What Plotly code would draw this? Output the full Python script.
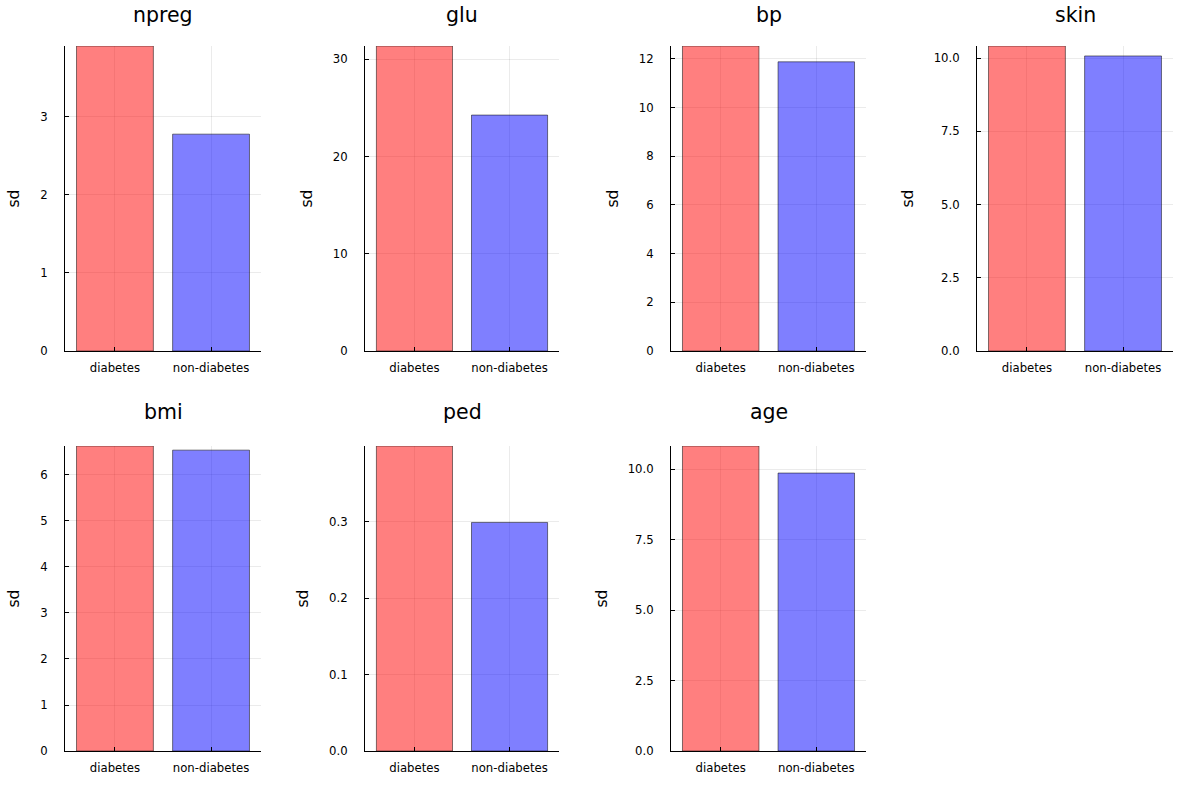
import plotly.graph_objects as go

groups = ["diabetes", "non-diabetes"]
variables = ["npreg", "glu", "bp", "skin", "bmi", "ped", "age"]
sd_diabetes = [3.91, 31.35, 12.53, 10.41, 6.63, 0.399, 10.82]
sd_nondiabetes = [2.78, 24.25, 11.88, 10.07, 6.54, 0.299, 9.86]
tick_steps = [1, 10, 2, 2.5, 1, 0.1, 2.5]
tick_formats = ["d", "d", "d", ".1f", "d", ".1f", ".1f"]

W, H = 1200, 800


def px_x(X):
    return X / W


def px_y(Y):
    return 1 - Y / H


col_px = [(65, 261), (365, 559), (671, 866), (977, 1173)]
row_px = [(46, 351), (446, 751)]
title_y = [15, 412]

fig = go.Figure()
colors = ["rgba(255,0,0,0.5)", "rgba(0,0,255,0.5)"]
font = "DejaVu Sans"

for i, var in enumerate(variables):
    r, c = divmod(i, 4)
    n = i + 1
    xa = "x" if n == 1 else f"x{n}"
    ya = "y" if n == 1 else f"y{n}"
    vals = [sd_diabetes[i], sd_nondiabetes[i]]
    fig.add_trace(go.Bar(
        x=groups, y=vals, xaxis=xa, yaxis=ya, width=0.8,
        marker=dict(color=colors, line=dict(color="rgba(0,0,0,0.5)", width=1)),
        showlegend=False, hoverinfo="x+y",
    ))
    x0, x1 = col_px[c]
    y0, y1 = row_px[r]
    xkey = "xaxis" if n == 1 else f"xaxis{n}"
    ykey = "yaxis" if n == 1 else f"yaxis{n}"
    fig.layout[xkey] = dict(
        domain=[px_x(x0), px_x(x1)], anchor=ya, type="category",
        range=[-0.52, 1.52], showline=True, linecolor="black", linewidth=1,
        ticks="inside", ticklen=4, tickcolor="black",
        showgrid=True, gridcolor="rgba(0,0,0,0.08)", gridwidth=1,
        tickfont=dict(family=font, size=11.7, color="black"),
        ticklabelstandoff=6, automargin=False,
        zeroline=False, fixedrange=True,
    )
    fig.layout[ykey] = dict(
        domain=[px_y(y1), px_y(y0)], anchor=xa,
        range=[0, max(vals)], showline=True, linecolor="black", linewidth=1,
        ticks="inside", ticklen=4, tickcolor="black",
        tick0=0, dtick=tick_steps[i], tickformat=tick_formats[i],
        showgrid=True, gridcolor="rgba(0,0,0,0.08)", gridwidth=1,
        tickfont=dict(family=font, size=11.7, color="black"),
        ticklabelstandoff=14, automargin=False,
        title=dict(text="sd", font=dict(family=font, size=15.6, color="black"), standoff=16),
        zeroline=False, fixedrange=True,
    )
    fig.add_annotation(
        text=var, xref="paper", yref="paper",
        x=px_x((x0 + x1) / 2), y=px_y(title_y[r]),
        xanchor="center", yanchor="middle", showarrow=False,
        font=dict(family=font, size=20.5, color="black"),
    )

fig.update_layout(
    width=W, height=H, margin=dict(l=0, r=0, t=0, b=0, pad=0),
    paper_bgcolor="white", plot_bgcolor="white",
    font=dict(family=font),
)
fig.write_html(
    "out.html",
    config={"displayModeBar": False},
    post_script="document.body.style.margin='0px';document.body.style.overflow='hidden';",
)
